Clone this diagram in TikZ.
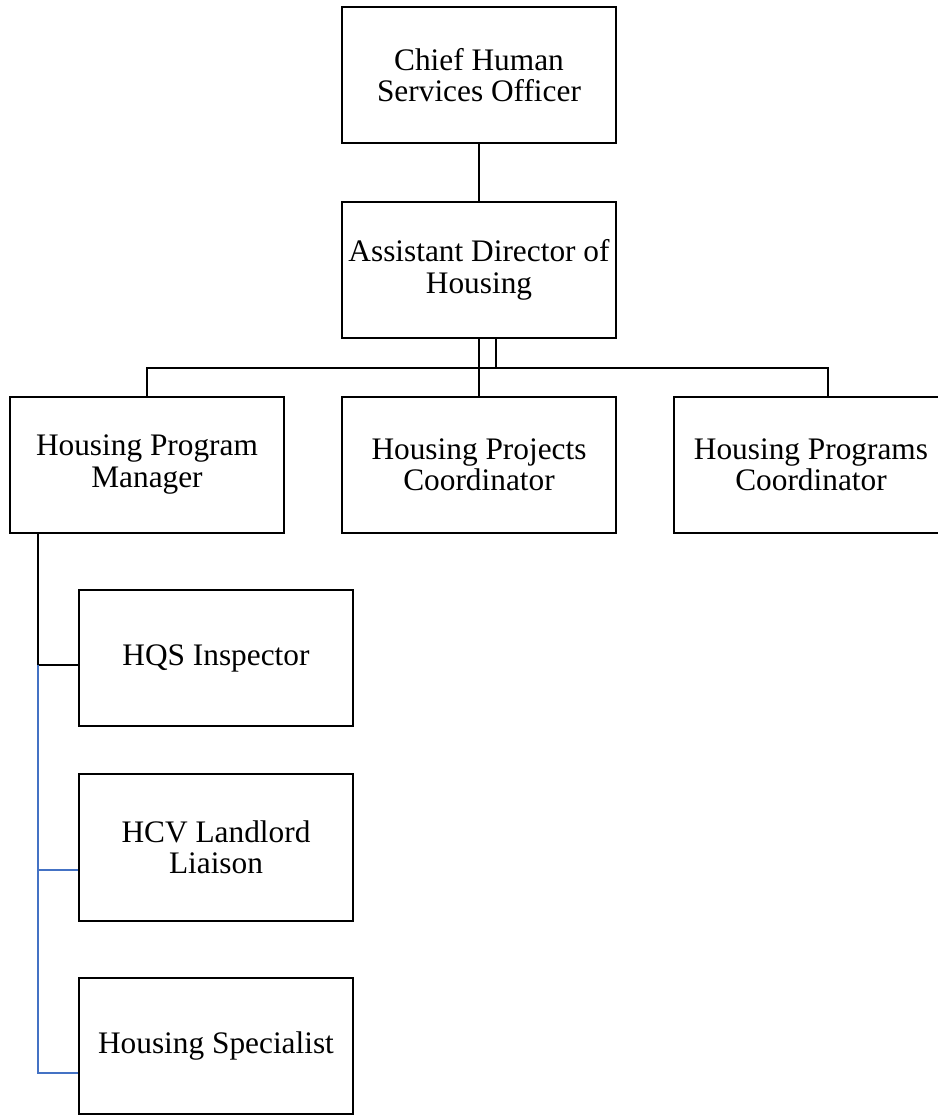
\documentclass[tikz,border=0pt]{standalone}
\usepackage{xcolor}
\usepackage{fontspec}
\setmainfont{Liberation Serif}
\definecolor{LinkBlue}{HTML}{4472C4}

\begin{document}
\begin{tikzpicture}[x=0.75pt, y=-0.75pt,
  post/.style={draw, line width=1.5pt, minimum width=206pt, minimum height=102pt, inner sep=0pt, align=center, font=\fontsize{23.5}{23.5}\selectfont},
  link/.style={line width=1.5pt, black},
  bluelink/.style={line width=1.5pt, LinkBlue}]%
\useasboundingbox (0,0) rectangle (938,1115);%
\node[post] (cho) at (479, 75) {Chief Human\\Services Officer};%
\node[post] (adh) at (479, 270) {Assistant Director of\\Housing};%
\node[post] (mgr) at (147, 464.5) {Housing Program\\Manager};%
\node[post] (prj) at (479, 464.5) {Housing Projects\\Coordinator};%
\node[post] (prg) at (811, 464.5) {Housing Programs\\Coordinator};%
\node[post] (hqs) at (216, 658) {HQS Inspector};%
\node[post, minimum height=110pt] (hcv) at (216, 847.5) {HCV Landlord\\Liaison};%
\node[post] (spc) at (216, 1045.5) {Housing Specialist};%
% joints
\coordinate (bar) at (496, 368);%
\coordinate (j1) at (38, 665);%
\coordinate (j2) at (38, 870);%
\coordinate (j3) at (38, 1073);%
\draw[link] (cho) -- (adh);%
\draw[link] (adh.south) -- (prj.north);%
\draw[link] (adh.south -| bar) -- (bar);%
\draw[link] (mgr.north) |- (bar) -| ([xshift=12.75pt]prg.north);%
\draw[link] (mgr.south -| j1) -- (j1) -- (j1 -| hqs.west);%
\draw[bluelink] (j1) -- (j3) -- (j3 -| spc.west);%
\draw[bluelink] (j2) -- (j2 -| hcv.west);%
\end{tikzpicture}
\end{document}
